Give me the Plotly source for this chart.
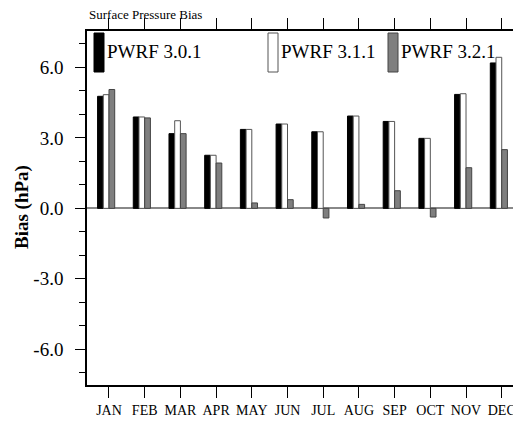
import plotly.graph_objects as go

months = ["JAN", "FEB", "MAR", "APR", "MAY", "JUN", "JUL", "AUG", "SEP", "OCT", "NOV", "DEC"]
pwrf_301 = [4.77, 3.89, 3.18, 2.26, 3.36, 3.59, 3.26, 3.93, 3.70, 2.98, 4.85, 6.19]
pwrf_311 = [4.84, 3.89, 3.73, 2.26, 3.36, 3.59, 3.26, 3.93, 3.70, 2.98, 4.88, 6.43]
pwrf_321 = [5.06, 3.85, 3.18, 1.93, 0.23, 0.37, -0.41, 0.17, 0.75, -0.37, 1.73, 2.50]
series_names = ["PWRF 3.0.1", "PWRF 3.1.1", "PWRF 3.2.1"]
y_ticks = [-6, -3, 0, 3, 6]
y_ticktext = ["-6.0", "-3.0", "0.0", "3.0", "6.0"]

FONT = "Liberation Serif"
OFF = 8  # page body margin
W, H = 521 - OFF, 426 - OFF
ML, MR, MT, MB = 87 - OFF, 0, 31 - OFF, 41
PW, PH = W - ML - MR, H - MT - MB

fills = ["#000000", "#ffffff", "#7f7f7f"]
lines = ["#000000", "#555555", "#444444"]
offsets = [-0.32, -0.16, 0.0]
bw = 0.16
xpos = list(range(1, len(months) + 1))

fig = go.Figure()
for vals, name, fc, lc, off in zip([pwrf_301, pwrf_311, pwrf_321], series_names, fills, lines, offsets):
    fig.add_trace(go.Bar(
        x=xpos, y=vals, name=name, width=bw, offset=off,
        marker=dict(color=fc, line=dict(color=lc, width=1)),
        showlegend=False,
    ))

# screen pixel -> paper coordinates
def px2x(px):
    return (px - OFF - ML) / PW

def px2y(py):
    return (H - MB - (py - OFF)) / PH

legend_box_x = [94, 268, 388]
for name, fc, lc, bx in zip(series_names, fills, lines, legend_box_x):
    fig.add_shape(type="rect", xref="paper", yref="paper",
                  x0=px2x(bx), x1=px2x(bx + 10), y0=px2y(72), y1=px2y(33),
                  fillcolor=fc, line=dict(color=lc, width=1), layer="above")
    fig.add_annotation(xref="paper", yref="paper", x=px2x(bx + 11), y=px2y(52),
                       text=name, showarrow=False, xanchor="left", yanchor="middle",
                       font=dict(family=FONT, size=19, color="black"))

fig.add_annotation(xref="paper", yref="paper", x=0, y=px2y(14),
                   text="Surface Pressure Bias", showarrow=False,
                   xanchor="left", yanchor="middle",
                   font=dict(family=FONT, size=13, color="black"))
fig.add_annotation(xref="paper", yref="paper", x=px2x(22), y=px2y(207),
                   text="<b>Bias (hPa)</b>", showarrow=False, textangle=-90,
                   xanchor="center", yanchor="middle",
                   font=dict(family=FONT, size=19, color="black"))

fig.update_layout(
    width=W, height=H,
    margin=dict(l=ML, r=MR, t=MT, b=MB, pad=0, autoexpand=False),
    plot_bgcolor="white", paper_bgcolor="white",
    barmode="overlay",
    xaxis=dict(
        range=[0.384, 12.54], tickmode="array", tickvals=xpos, ticktext=months,
        ticks="outside", ticklen=11, tickwidth=1.2, tickcolor="black",
        showline=True, linecolor="black", linewidth=1.5, mirror="ticks",
        showgrid=False, zeroline=False, automargin=False,
        tickfont=dict(family=FONT, size=14, color="black"),
    ),
    yaxis=dict(
        range=[-7.52, 7.55], tickmode="array", tickvals=y_ticks, ticktext=y_ticktext,
        ticks="outside", ticklen=10, tickwidth=1.2, tickcolor="black",
        showline=True, linecolor="black", linewidth=1.5, mirror=False,
        showgrid=False, zeroline=True, zerolinecolor="#888888", zerolinewidth=1.5,
        automargin=False, ticklabelstandoff=8,
        tickfont=dict(family=FONT, size=19, color="black"),
        minor=dict(dtick=1, tick0=0, ticks="outside", ticklen=6, tickwidth=1, tickcolor="black", showgrid=False),
    ),
)

fig.write_html("out.html")
